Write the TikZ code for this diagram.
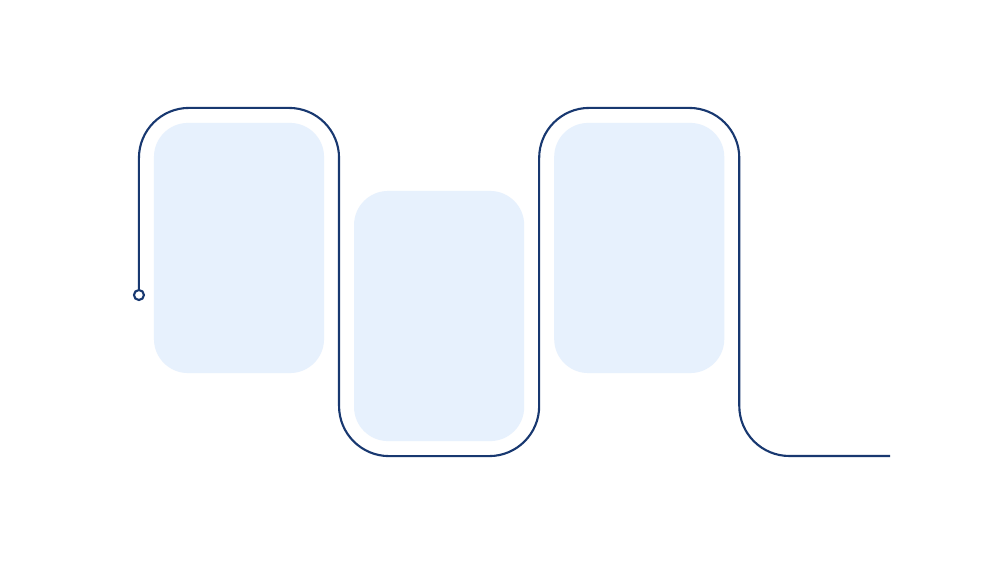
\documentclass[tikz,border=0pt]{standalone}
\usepackage{tikz}
\usetikzlibrary{positioning, calc}
\definecolor{PathNavy}{RGB}{24,56,112}
\definecolor{PanelBlue}{RGB}{231,241,253}

\begin{document}
\begin{tikzpicture}[x=0.01cm, y=-0.01cm,
  panel/.style={fill=PanelBlue, rounded corners=0.34cm, minimum width=1.7cm, minimum height=2.5cm, inner sep=0pt, outer sep=0pt},
  snake/.style={draw=PathNavy, line width=0.6pt, rounded corners=0.5cm}]
\useasboundingbox[fill=white] (0,0) rectangle (1000,562);
\node[panel] (P1) at (239,248) {};
\node[panel, right=0.3cm of P1, yshift=-0.68cm] (P2) {};
\node[panel, right=0.3cm of P2, yshift=0.68cm] (P3) {};
% the path that winds round the panels
\node[circle, draw=PathNavy, line width=0.6pt, fill=white, minimum size=0.1cm, inner sep=0pt] (start) at ([xshift=-0.15cm, yshift=-0.47cm]P1.west) {};
\coordinate (end) at (890,456);
\draw[snake] (start.north) |- ($(P1.north east)+(15,-15)$) |- ($(P2.south east)+(15,15)$)
  |- ($(P3.north east)+(15,-15)$) |- (end);
\end{tikzpicture}
\end{document}
